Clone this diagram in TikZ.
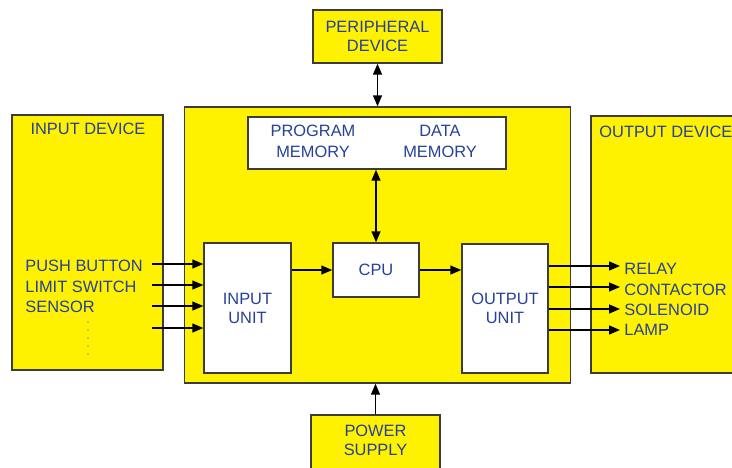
\documentclass[tikz,border=0pt]{standalone}
\usepackage{fontspec}
\setmainfont{Liberation Sans}
\usepackage{tikz}
\usetikzlibrary{arrows.meta}
\definecolor{plcyellow}{HTML}{FFF200}
\definecolor{labelblue}{HTML}{26409C}
\definecolor{edge}{HTML}{3C3C3C}
\newcommand{\plcfont}{\fontsize{8.2}{9.5}\selectfont}
\tikzset{
  yellowbox/.style={rectangle,draw=edge,line width=0.7pt,fill=plcyellow,inner sep=0pt},
  unitbox/.style={rectangle,draw=edge,line width=0.7pt,fill=white,inner sep=0pt,align=center,text=labelblue,font=\plcfont},
  lbl/.style={text=labelblue,font=\plcfont,inner sep=0pt,align=center},
  link/.style={-{Triangle[length=5.5pt,width=4.5pt]},black,line width=0.7pt},
  duallink/.style={{Triangle[length=5.5pt,width=4.5pt]}-{Triangle[length=5.5pt,width=4.5pt]},black,line width=0.7pt},
}

\begin{document}
\begin{tikzpicture}[x=0.5pt,y=-0.5pt]
\useasboundingbox (0,0) rectangle (732,467);
\clip (0,0) rectangle (732,467);
% outer blocks
\node[yellowbox,minimum width=75.5pt,minimum height=127.5pt] (indev) at (87.5,242.5) {};
\node[yellowbox,minimum width=193pt,minimum height=138pt] (plc) at (377.5,245) {};
\node[yellowbox,minimum width=77pt,minimum height=128.5pt] (outdev) at (668,244.5) {};
\node[yellowbox,minimum width=64.5pt,minimum height=26.5pt,lbl] (periph) at (377.5,36.5) {PERIPHERAL\\DEVICE};
\node[yellowbox,minimum width=64.5pt,minimum height=32.5pt] (power) at (375.5,447.5) {};
\node[lbl] (powertext) at (375.5,440) {POWER\\SUPPLY};
\node[lbl] (indevtitle) at (88,129) {INPUT DEVICE};
\node[lbl,anchor=west] (outdevtitle) at (599,132) {OUTPUT DEVICE};
% inner blocks
\node[unitbox,minimum width=129pt,minimum height=26pt] (mem) at (377,143) {};
\node[lbl,font=\fontsize{8.2}{10.5}\selectfont] (progmem) at (313,141.5) {PROGRAM\\MEMORY};
\node[lbl,font=\fontsize{8.2}{10.5}\selectfont] (datamem) at (440,141.5) {DATA\\MEMORY};
\node[unitbox,minimum width=43pt,minimum height=27pt] (cpu) at (376,270) {CPU};
\node[unitbox,minimum width=43.5pt,minimum height=65pt] (inunit) at (247.5,308) {INPUT\\UNIT};
\node[unitbox,minimum width=43pt,minimum height=64.5pt] (outunit) at (505,308.5) {OUTPUT\\UNIT};
% input devices
\node[lbl,anchor=west] (pushbtn) at (25,266) {PUSH BUTTON};
\node[lbl,anchor=west] (limitsw) at (25,287) {LIMIT SWITCH};
\node[lbl,anchor=west] (sensor) at (25,307) {SENSOR};
\foreach \y in {322,330,338,346,354}
  \fill[labelblue!50] (88,\y) circle (0.5pt);
\coordinate (in1) at (152,264);
\coordinate (in2) at (152,285);
\coordinate (in3) at (152,306);
\coordinate (in4) at (152,328);
\foreach \c in {in1,in2,in3,in4}
  \draw[link] (\c) -- (\c -| inunit.west);
% output devices
\coordinate (out1) at (620,266);
\coordinate (out2) at (620,287);
\coordinate (out3) at (620,309);
\coordinate (out4) at (620,330);
\foreach \c in {out1,out2,out3,out4}
  \draw[link] (outunit.east |- \c) -- (\c);
\node[lbl,anchor=west] (relay) at (624,269) {RELAY};
\node[lbl,anchor=west] (contactor) at (624,290) {CONTACTOR};
\node[lbl,anchor=west] (solenoid) at (624,310) {SOLENOID};
\node[lbl,anchor=west] (lamp) at (624,330) {LAMP};
% internal links
\draw[duallink] (periph.south) -- (plc.north);
\draw[duallink] (mem.south -| cpu.north) -- (cpu.north);
\draw[link] (inunit.east |- cpu) -- (cpu.west);
\draw[link] (cpu.east) -- (cpu.east -| outunit.west);
\draw[link] (power.north) -- (power.north |- plc.south);
\end{tikzpicture}
\end{document}
